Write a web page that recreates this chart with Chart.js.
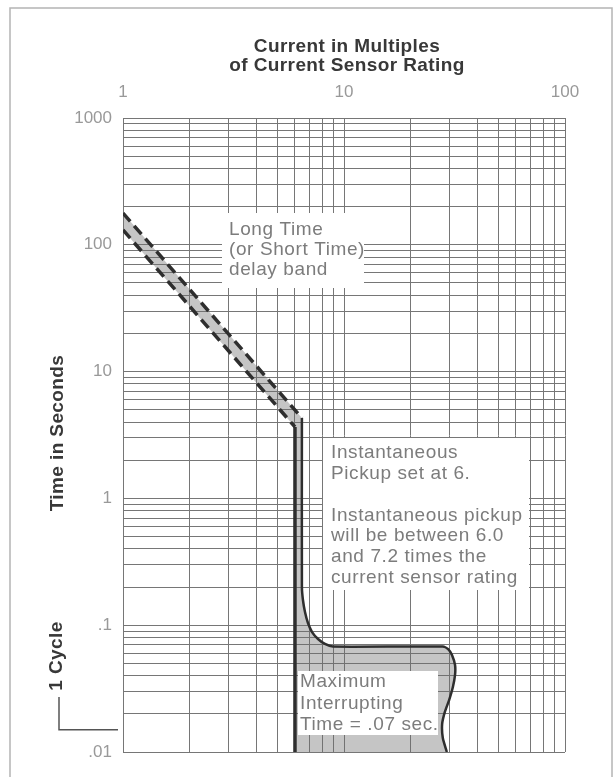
<!DOCTYPE html>
<html>
<head>
<meta charset="utf-8">
<script src="https://cdn.jsdelivr.net/npm/chart.js@4.4.1/dist/chart.umd.min.js"></script>
<style>
  html, body { margin: 0; padding: 0; background: #fff; }
  #wrap { width: 615px; height: 777px; }
</style>
</head>
<body>
<div id="wrap"><canvas id="grafico" width="615" height="777"></canvas></div>
<script>
// x = current in multiples of sensor rating, y = time in seconds
const upperBandX = [1, 6.45];
const upperBandY = [178, 4.3];
const lowerBandX = [1, 6.0];
const lowerBandY = [131, 3.66];
const pickupLeftX = [6.0, 6.0];
const pickupLeftY = [3.66, 0.01];
const pickupRightX = [6.45, 6.45, 6.52, 6.66, 6.87, 7.17, 7.63, 8.2, 8.91, 28.0, 29.6, 30.8, 31.8, 31.8, 31.1, 29.9, 28.6, 27.8, 28.0, 29.2];
const pickupRightY = [4.3, 0.2, 0.158, 0.127, 0.104, 0.0883, 0.0778, 0.0711, 0.0679, 0.0679, 0.0648, 0.0582, 0.0485, 0.0405, 0.0326, 0.0257, 0.0207, 0.0166, 0.0129, 0.01];

const xDecades = [1, 10, 100];
const xTickLabels = ['1', '10', '100'];
const yDecades = [0.01, 0.1, 1, 10, 100, 1000];
const yTickLabels = ['.01', '.1', '1', '10', '100', '1000'];
const cycleTime = 0.015;

const GRID = '#767676';
const LINE = '#2e2e2e';

function pts(xs, ys) {
  return xs.map((x, i) => ({ x: x, y: ys[i] }));
}

// 1..9 in every decade, for the grid
function gridValues(decades) {
  const out = [];
  decades.forEach((d, i) => {
    if (i === decades.length - 1) { out.push(d); return; }
    for (let m = 1; m < 10; m++) out.push(+(m * d).toPrecision(3));
  });
  return out;
}

function labelFor(decades, labels) {
  return value => {
    const i = decades.findIndex(d => Math.abs(d - value) < d * 1e-6);
    return i >= 0 ? labels[i] : '';
  };
}

const bandShape = pts(upperBandX, upperBandY)
  .concat(pts(pickupRightX, pickupRightY).slice(1))
  .concat(pts(pickupLeftX, pickupLeftY).reverse())
  .concat(pts(lowerBandX, lowerBandY).reverse().slice(1));

const notes = {
  id: 'notes',
  afterDatasetsDraw(chart) {
    const ctx = chart.ctx;
    const area = chart.chartArea;
    const yScale = chart.scales.y;

    ctx.save();
    // white boxes behind annotations
    ctx.fillStyle = '#fff';
    ctx.fillRect(222, 213, 142, 75);
    ctx.fillRect(323, 438, 206, 152);
    ctx.fillRect(298, 671, 140, 64);

    ctx.fillStyle = '#7c7c7c';
    ctx.font = '19px "Liberation Sans", Arial, sans-serif';
    ctx.letterSpacing = '0.6px';
    ctx.textAlign = 'left';
    ctx.textBaseline = 'middle';
    ['Long Time', '(or Short Time)', 'delay band'].forEach((t, i) => ctx.fillText(t, 229, 230 + i * 20));
    const inst = ['Instantaneous', 'Pickup set at 6.', '', 'Instantaneous pickup', 'will be between 6.0', 'and 7.2 times the', 'current sensor rating'];
    inst.forEach((t, i) => ctx.fillText(t, 331, 453 + i * 20.8));
    ['Maximum', 'Interrupting', 'Time = .07 sec.'].forEach((t, i) => ctx.fillText(t, 300, 682 + i * 21.5));

    // axis titles
    ctx.fillStyle = '#383838';
    ctx.font = 'bold 19px "Liberation Sans", Arial, sans-serif';
    ctx.letterSpacing = '0.4px';
    ctx.textAlign = 'center';
    ctx.fillText('Current in Multiples', 347, 47);
    ctx.fillText('of Current Sensor Rating', 347, 66);

    ctx.save();
    ctx.translate(58, 433);
    ctx.rotate(-Math.PI / 2);
    ctx.fillText('Time in Seconds', 0, 0);
    ctx.restore();

    ctx.save();
    ctx.translate(57, 656);
    ctx.rotate(-Math.PI / 2);
    ctx.fillText('1 Cycle', 0, 0);
    ctx.restore();

    // 1 cycle bracket
    const yc = yScale.getPixelForValue(cycleTime);
    ctx.strokeStyle = '#555';
    ctx.lineWidth = 1.5;
    ctx.beginPath();
    ctx.moveTo(59, 697);
    ctx.lineTo(59, yc);
    ctx.lineTo(area.left - 5, yc);
    ctx.stroke();

    // outer frame
    ctx.strokeStyle = '#b4b4b4';
    ctx.lineWidth = 1.5;
    ctx.strokeRect(10, 8, 602, 800);
    ctx.restore();
  }
};

const canvas = document.getElementById('grafico');
new Chart(canvas, {
  type: 'line',
  data: {
    datasets: [
      { data: pts(upperBandX, upperBandY), borderColor: LINE, borderWidth: 3.5, borderDash: [11, 6], pointRadius: 0, fill: false },
      { data: pts(lowerBandX, lowerBandY), borderColor: LINE, borderWidth: 3.5, borderDash: [11, 6], pointRadius: 0, fill: false },
      { data: pts(pickupLeftX, pickupLeftY), borderColor: LINE, borderWidth: 3.5, pointRadius: 0, fill: false },
      { data: pts(pickupRightX, pickupRightY), borderColor: LINE, borderWidth: 2.5, pointRadius: 0, tension: 0.2, fill: false },
      // translucent so the grid still shows through the band
      { data: bandShape, borderColor: 'transparent', borderWidth: 0, backgroundColor: 'rgba(110,110,110,0.4)', pointRadius: 0, tension: 0, fill: 'shape' }
    ]
  },
  options: {
    responsive: false,
    animation: false,
    events: [],
    layout: { padding: { left: 0, top: 0, right: 50, bottom: 25 } },
    plugins: { legend: { display: false }, tooltip: { enabled: false } },
    scales: {
      x: {
        type: 'logarithmic',
        position: 'top',
        min: 1,
        max: 100,
        afterBuildTicks: s => { s.ticks = gridValues(xDecades).map(v => ({ value: v })); },
        afterFit: s => { s.height = 118; },
        grid: { color: GRID, lineWidth: 1, drawTicks: false },
        border: { color: GRID },
        ticks: {
          callback: labelFor(xDecades, xTickLabels),
          autoSkip: false,
          maxRotation: 0,
          padding: 15,
          color: '#999',
          font: { family: '"Liberation Sans", Arial, sans-serif', size: 17 }
        }
      },
      y: {
        type: 'logarithmic',
        min: 0.01,
        max: 1000,
        afterBuildTicks: s => { s.ticks = gridValues(yDecades).map(v => ({ value: v })); },
        afterFit: s => { s.width = 123; },
        grid: { color: GRID, lineWidth: 1, drawTicks: false },
        border: { color: GRID },
        ticks: {
          callback: labelFor(yDecades, yTickLabels),
          autoSkip: false,
          padding: 11,
          color: '#999',
          font: { family: '"Liberation Sans", Arial, sans-serif', size: 17 }
        }
      }
    }
  },
  plugins: [notes]
});
</script>
</body>
</html>
